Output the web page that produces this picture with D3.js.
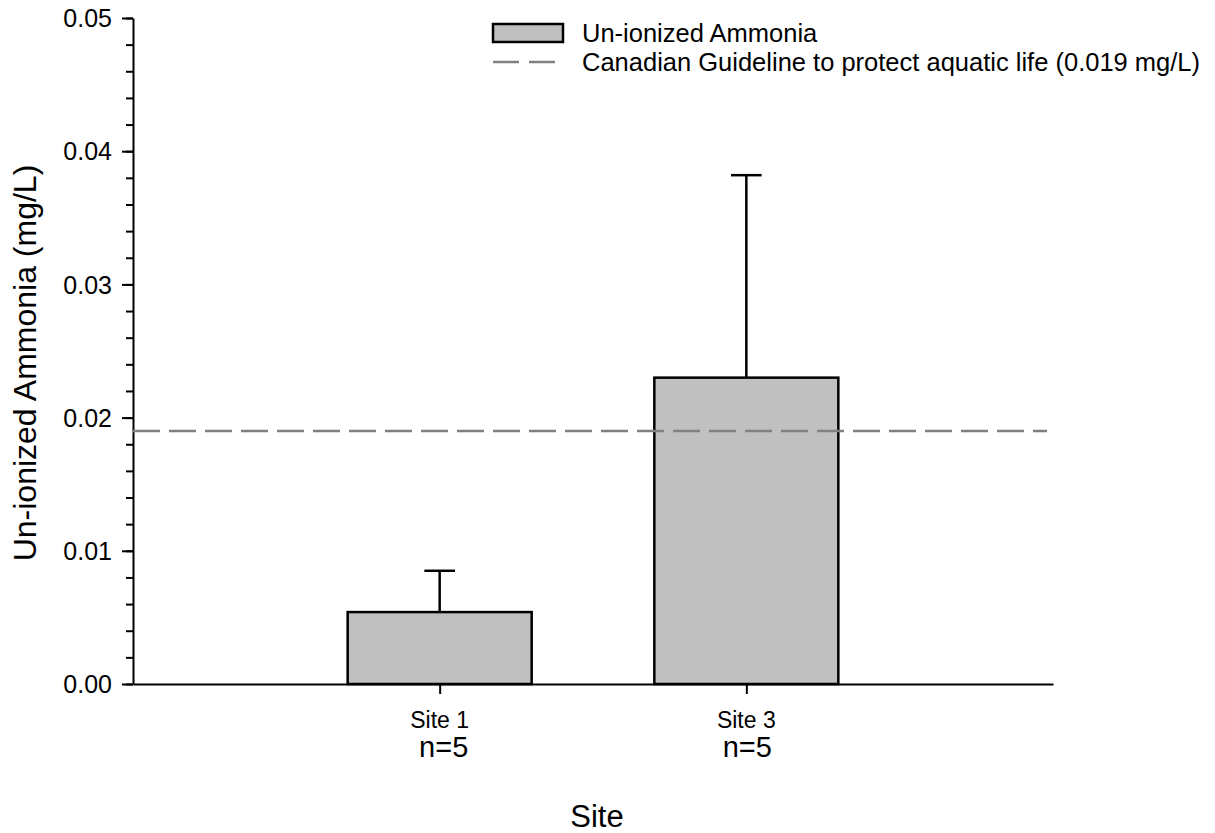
<!DOCTYPE html>
<html lang="en">

<head>
    <meta charset="utf-8">
    <style type="text/css">
        body {
            margin: 0;
            background-color: #fff;
        }

        svg {
            display: block;
            background-color: #fff;
        }

        text {
            font-family: Arial, "Liberation Sans", sans-serif;
            fill: #000;
        }

        .axis path,
        .axis line {
            stroke: #000;
            stroke-width: 2px;
        }
    </style>
    <script src="https://d3js.org/d3.v7.min.js"></script>
    <title>Un-ionized Ammonia</title>
</head>

<body>
    <div id="canvas"></div>
    <script type="text/JavaScript">

        // data read off the chart
        var sites = ["Site 1", "Site 3"];
        var sitePos = [1, 2];
        var means = [0.0054, 0.023];
        var errUp = [0.0031, 0.0152];
        var sampleN = ["n=5", "n=5"];
        var guideline = 0.019;
        var majorTicks = [0, 0.01, 0.02, 0.03, 0.04, 0.05];
        var minorTicks = d3.range(0, 0.0501, 0.002);

        var width = 1215, height = 833;
        // plot box (don't call it "top", that is window.top)
        var plotL = 133, plotR = 1053, plotT = 18, plotB = 684;

        var svg = d3.select("#canvas")
            .append("svg")
            .attr("width", width)
            .attr("height", height);

        var x = d3.scaleLinear().domain([0, 3]).range([plotL, plotR]);
        var y = d3.scaleLinear().domain([0, 0.05]).range([plotB, plotT]);

        var barW = x(0.6) - x(0);
        var capW = x(0.1) - x(0);

        //minor y ticks
        svg.append("g")
            .attr("class", "axis")
            .attr("transform", "translate(" + plotL + ",0)")
            .call(d3.axisLeft(y).tickValues(minorTicks).tickSize(7).tickFormat(""))
            .select(".domain").remove();

        //major y ticks + axis line
        var yAxis = svg.append("g")
            .attr("class", "axis")
            .attr("transform", "translate(" + plotL + ",0)")
            .call(d3.axisLeft(y).tickValues(majorTicks).tickSize(11).tickSizeOuter(0).tickPadding(10).tickFormat(d3.format(".2f")));
        yAxis.selectAll("text")
            .style("font-size", "25px")
            .attr("dy", "0.35em");

        //x axis
        svg.append("g")
            .attr("class", "axis")
            .attr("transform", "translate(0," + plotB + ")")
            .call(d3.axisBottom(x).tickValues(sitePos).tickSize(10).tickSizeOuter(0).tickFormat(""));

        //bars
        svg.selectAll("rect.bar")
            .data(means)
            .enter().append("rect")
            .attr("class", "bar")
            .attr("x", function(d, i) { return x(sitePos[i]) - barW / 2; })
            .attr("y", function(d) { return y(d); })
            .attr("width", barW)
            .attr("height", function(d) { return y(0) - y(d); })
            .style("fill", "#c0c0c0")
            .style("stroke", "#000")
            .style("stroke-width", 2.5);

        //error bars (upper only)
        var eb = svg.selectAll("g.err")
            .data(means)
            .enter().append("g")
            .attr("class", "err")
            .style("stroke", "#000")
            .style("stroke-width", 2.5);
        eb.append("line")
            .attr("x1", function(d, i) { return x(sitePos[i]); })
            .attr("x2", function(d, i) { return x(sitePos[i]); })
            .attr("y1", function(d) { return y(d); })
            .attr("y2", function(d, i) { return y(d + errUp[i]); });
        eb.append("line")
            .attr("x1", function(d, i) { return x(sitePos[i]) - capW / 2; })
            .attr("x2", function(d, i) { return x(sitePos[i]) + capW / 2; })
            .attr("y1", function(d, i) { return y(d + errUp[i]); })
            .attr("y2", function(d, i) { return y(d + errUp[i]); });

        //guideline
        svg.append("line")
            .attr("x1", plotL)
            .attr("x2", x(3) - 6)
            .attr("y1", y(guideline))
            .attr("y2", y(guideline))
            .style("stroke", "#808080")
            .style("stroke-width", 2.5)
            .style("stroke-dasharray", "27,9");

        //site labels
        svg.selectAll("text.site")
            .data(sites)
            .enter().append("text")
            .attr("class", "site")
            .attr("x", function(d, i) { return x(sitePos[i]); })
            .attr("y", 728)
            .attr("text-anchor", "middle")
            .style("font-size", "23px")
            .text(function(d) { return d; });

        svg.selectAll("text.n")
            .data(sampleN)
            .enter().append("text")
            .attr("class", "n")
            .attr("x", function(d, i) { return x(sitePos[i]) + (i === 0 ? 4 : 1); })
            .attr("y", 757)
            .attr("text-anchor", "middle")
            .style("font-size", "29px")
            .text(function(d) { return d; });

        //axis titles
        svg.append("text")
            .attr("x", 597)
            .attr("y", 827)
            .attr("text-anchor", "middle")
            .style("font-size", "31px")
            .text("Site");

        svg.append("text")
            .attr("transform", "translate(36,363) rotate(-90)")
            .attr("text-anchor", "middle")
            .style("font-size", "32px")
            .text("Un-ionized Ammonia (mg/L)");

        //legend
        var lg = svg.append("g").attr("transform", "translate(493,0)");
        lg.append("rect")
            .attr("x", 0)
            .attr("y", 24)
            .attr("width", 70)
            .attr("height", 18)
            .style("fill", "#c0c0c0")
            .style("stroke", "#000")
            .style("stroke-width", 2.5);
        lg.append("text")
            .attr("x", 89)
            .attr("y", 42)
            .style("font-size", "25.5px")
            .text("Un-ionized Ammonia");
        lg.append("line")
            .attr("x1", 0)
            .attr("x2", 62)
            .attr("y1", 62)
            .attr("y2", 62)
            .style("stroke", "#808080")
            .style("stroke-width", 2.5)
            .style("stroke-dasharray", "26,10");
        lg.append("text")
            .attr("x", 89)
            .attr("y", 71)
            .style("font-size", "25.5px")
            .text("Canadian Guideline to protect aquatic life (0.019 mg/L)");

    </script>
</body>

</html>
